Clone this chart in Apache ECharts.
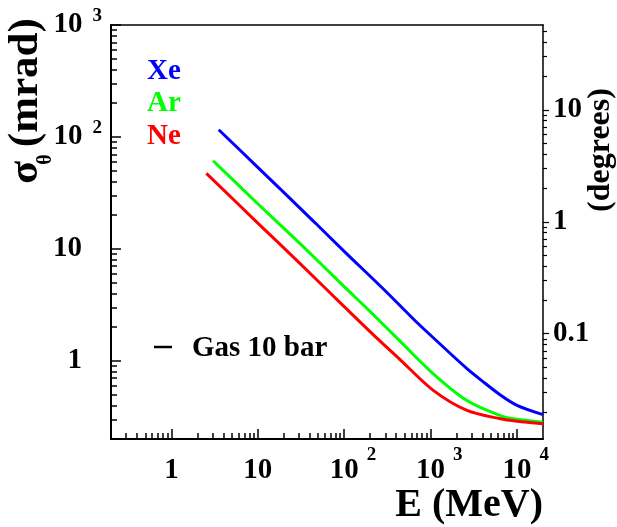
<!DOCTYPE html>
<html><head><meta charset="utf-8">
<script src="https://cdn.jsdelivr.net/npm/echarts@6/dist/echarts.min.js"></script>
<style>html,body{margin:0;padding:0;background:#fff}#c{width:617px;height:527px}</style>
</head><body><div id="c"></div>
<script>
// ---- data ----
const energyXe = [3.53, 10, 46.4, 100, 300, 636, 1000, 2637, 4000, 6412, 10000, 20000];
const sigmaXe  = [116, 53.5, 17.0, 9.5, 4.2, 2.35, 1.69, 0.85, 0.655, 0.495, 0.40, 0.33];
const energyAr = [3.04, 10, 31.1, 100, 200, 446, 1083, 2637, 6412, 10000, 20000];
const sigmaAr  = [61.2, 25.3, 11.06, 4.6, 2.75, 1.49, 0.761, 0.441, 0.324, 0.30, 0.283];
const energyNe = [2.54, 10, 31.1, 100, 246, 446, 1083, 2637, 6412, 10000, 20000];
const sigmaNe  = [47.3, 17.0, 7.34, 3.05, 1.56, 1.02, 0.541, 0.36, 0.303, 0.288, 0.274];
const gasNames = ['Xe', 'Ar', 'Ne'];
const gasColors = ['#0000ff', '#00ff00', '#ff0000'];

const xMajor = [1, 10, 100, 1000, 10000];
const xMinor = [0.3,0.4,0.5,0.6,0.7,0.8,0.9, 2,3,4,5,6,7,8,9, 20,30,40,50,60,70,80,90,
                200,300,400,500,600,700,800,900, 2000,3000,4000,5000,6000,7000,8000,9000];
const yMajor = [1, 10, 100, 1000];
const yMinor = [0.3,0.4,0.5,0.6,0.7,0.8,0.9, 2,3,4,5,6,7,8,9, 20,30,40,50,60,70,80,90,
                200,300,400,500,600,700,800,900];
const degMajor = [0.1, 1, 10];
const degMinor = [0.02,0.03,0.04,0.05,0.06,0.07,0.08,0.09, 0.2,0.3,0.4,0.5,0.6,0.7,0.8,0.9,
                  2,3,4,5,6,7,8,9, 20,30,40,50];
const xMin = 0.2, xMax = 20000, yMin = 0.2, yMax = 1000;
const MRAD_PER_DEG = Math.PI / 180 * 1000;

// ---- chart ----
const FF = '"Liberation Serif","Times New Roman",serif';
const chart = echarts.init(document.getElementById('c'), null, {renderer: 'canvas'});

function xFmt(v) {
  const e = Math.round(Math.log10(v));
  if (e === 0) return '{b|1}';
  if (e === 1) return '{b|10}';
  return '{e|}{b|10}{g|}{s|' + e + '}';
}
function yFmt(v) {
  const e = Math.round(Math.log10(v));
  if (e === 0) return '{b|1}{g2|}';
  if (e === 1) return '{b|10}{g2|}';
  return '{b|10}{g|}{s|' + e + '}';
}
const baseTxt = {fontFamily: FF, fontWeight: 'bold', color: '#000'};

const series = [[energyXe, sigmaXe], [energyAr, sigmaAr], [energyNe, sigmaNe]].map((d, k) => ({
  type: 'line', name: gasNames[k], xAxisIndex: 0, yAxisIndex: 0,
  data: d[0].map((e, i) => [e, d[1][i]]),
  showSymbol: false, smooth: 0.3,
  lineStyle: {color: gasColors[k], width: 3},
  itemStyle: {color: gasColors[k]}
}));

const hidden = {show: false};
chart.setOption({
  animation: false,
  backgroundColor: '#fff',
  grid: {left: 111, right: 74, top: 25, bottom: 88, containLabel: false, outerBoundsMode: 'none'},
  xAxis: [
    {type: 'log', min: xMin, max: xMax, position: 'bottom',
     axisLine: {show: true, onZero: false, lineStyle: {color: '#000', width: 2}},
     axisTick: {show: true, inside: true, length: 10, customValues: xMajor, lineStyle: {color: '#000', width: 1.5}},
     minorTick: hidden, splitLine: hidden,
     axisLabel: {show: true, customValues: xMajor, formatter: xFmt, margin: 7,
       rich: {
         b: Object.assign({fontSize: 29, lineHeight: 50}, baseTxt),
         s: Object.assign({fontSize: 19, lineHeight: 19, verticalAlign: 'top'}, baseTxt),
         g: {width: 8}, e: {width: 17.5}
       }}},
    {type: 'log', min: xMin, max: xMax, position: 'bottom',
     axisLine: hidden, axisLabel: hidden, splitLine: hidden, minorTick: hidden,
     axisTick: {show: true, inside: true, length: 6, customValues: xMinor, lineStyle: {color: '#000', width: 1.5}}},
    {type: 'log', min: xMin, max: xMax, position: 'top',
     axisLine: {show: true, lineStyle: {color: '#000', width: 1.5}},
     axisTick: hidden, axisLabel: hidden, splitLine: hidden, minorTick: hidden}
  ],
  yAxis: [
    {type: 'log', min: yMin, max: yMax, position: 'left',
     axisLine: {show: true, onZero: false, lineStyle: {color: '#000', width: 2}},
     axisTick: {show: true, inside: true, length: 10, customValues: yMajor, lineStyle: {color: '#000', width: 1.5}},
     minorTick: hidden, splitLine: hidden,
     axisLabel: {show: true, customValues: yMajor, formatter: yFmt, margin: 9,
       rich: {
         b: Object.assign({fontSize: 29, lineHeight: 36}, baseTxt),
         s: Object.assign({fontSize: 19, lineHeight: 19, verticalAlign: 'top'}, baseTxt),
         g: {width: 10}, g2: {width: 20}
       }}},
    {type: 'log', min: yMin, max: yMax, position: 'left',
     axisLine: hidden, axisLabel: hidden, splitLine: hidden, minorTick: hidden,
     axisTick: {show: true, inside: true, length: 6, customValues: yMinor, lineStyle: {color: '#000', width: 1.5}}},
    {type: 'log', min: yMin / MRAD_PER_DEG, max: yMax / MRAD_PER_DEG, position: 'right',
     axisLine: {show: true, onZero: false, lineStyle: {color: '#000', width: 1.5}},
     axisTick: {show: true, inside: false, length: 6, customValues: degMajor, lineStyle: {color: '#000', width: 1.2}},
     minorTick: hidden, splitLine: hidden,
     axisLabel: {show: true, customValues: degMajor, margin: 10, padding: [0, 0, 9, 0],
       formatter: v => (v < 0.5 ? '0.1' : String(Math.round(v))),
       fontSize: 29, fontFamily: FF, fontWeight: 'bold', color: '#000'}},
    {type: 'log', min: yMin / MRAD_PER_DEG, max: yMax / MRAD_PER_DEG, position: 'right',
     axisLine: hidden, axisLabel: hidden, splitLine: hidden, minorTick: hidden,
     axisTick: {show: true, inside: false, length: 4, customValues: degMinor, lineStyle: {color: '#000', width: 1.2}}}
  ],
  graphic: [
    {type: 'text', x: 26, y: 101, rotation: Math.PI / 2,
     style: {text: '{g|σ}{sub|θ}{m| (mrad)}', align: 'center', verticalAlign: 'middle',
       rich: {
         g: {fontFamily: FF, fontWeight: 'bold', fontSize: 42, lineHeight: 60, fill: '#000'},
         m: {fontFamily: FF, fontWeight: 'bold', fontSize: 43, lineHeight: 60, fill: '#000'},
         sub: {fontFamily: FF, fontWeight: 'bold', fontSize: 20, lineHeight: 20, width: 3, verticalAlign: 'bottom', fill: '#000'}
       }}},
    {type: 'text', x: 543, y: 506,
     style: {text: 'E (MeV)', align: 'right', verticalAlign: 'middle',
       font: 'bold 40px ' + FF, fill: '#000'}},
    {type: 'text', x: 601, y: 150, rotation: Math.PI / 2,
     style: {text: '(degrees)', align: 'center', verticalAlign: 'middle',
       font: 'bold 32px ' + FF, fill: '#000'}},
    {type: 'text', x: 147, y: 72,
     style: {text: gasNames[0], align: 'left', verticalAlign: 'middle', font: 'bold 29px ' + FF, fill: gasColors[0]}},
    {type: 'text', x: 147, y: 104,
     style: {text: gasNames[1], align: 'left', verticalAlign: 'middle', font: 'bold 29px ' + FF, fill: gasColors[1]}},
    {type: 'text', x: 147, y: 137,
     style: {text: gasNames[2], align: 'left', verticalAlign: 'middle', font: 'bold 29px ' + FF, fill: gasColors[2]}},
    {type: 'line', shape: {x1: 154, y1: 347, x2: 172, y2: 347},
     style: {stroke: '#000', lineWidth: 2.5}},
    {type: 'text', x: 192, y: 349,
     style: {text: 'Gas 10 bar', align: 'left', verticalAlign: 'middle', font: 'bold 29px ' + FF, fill: '#000'}}
  ],
  series: series
});
</script>
</body></html>
